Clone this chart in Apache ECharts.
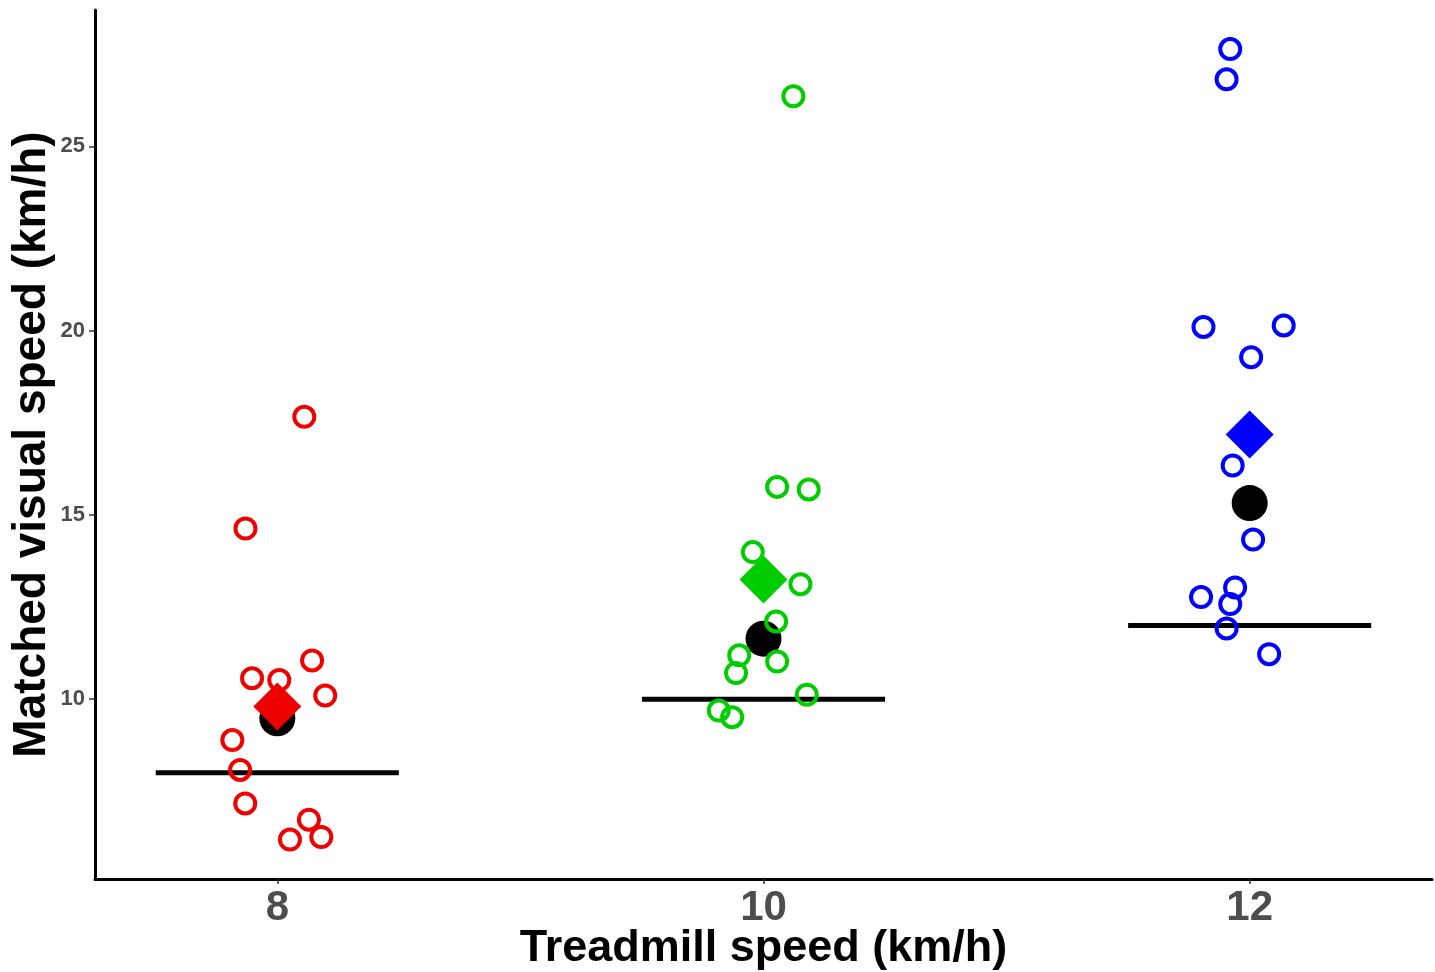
<!DOCTYPE html>
<html>
<head>
<meta charset="utf-8">
<script src="https://cdn.jsdelivr.net/npm/echarts@6/dist/echarts.min.js"></script>
<style>
html,body{margin:0;padding:0;background:#fff;}
#chart{width:1435px;height:972px;}
</style>
</head>
<body>
<div id="chart"></div>
<script>
// Treadmill speeds (km/h)
const treadmillSpeeds = [8, 10, 12];
const xTickValues = [8, 10, 12];
const yTickValues = [10, 15, 20, 25];

// Individual matched speeds: [jittered x, matched visual speed]
const points8 = [
  [8.111, 17.66], [7.869, 14.63], [8.143, 11.05], [7.896, 10.57], [8.008, 10.52],
  [8.197, 10.10], [7.815, 8.89], [7.847, 8.08], [7.868, 7.17], [8.130, 6.73],
  [8.052, 6.19], [8.181, 6.26]
];
const points10 = [
  [10.123, 26.36], [10.056, 15.76], [10.186, 15.69], [9.956, 13.99], [10.152, 13.12],
  [10.052, 12.11], [9.900, 11.19], [9.887, 10.71], [10.056, 11.02], [10.178, 10.12],
  [9.816, 9.69], [9.871, 9.51]
];
const points12 = [
  [11.920, 27.64], [11.905, 26.82], [11.810, 20.10], [12.140, 20.14], [12.006, 19.28],
  [11.930, 16.34], [12.014, 14.33], [11.940, 13.03], [11.800, 12.77], [11.920, 12.58],
  [11.905, 11.92], [12.080, 11.22]
];
// Summary values per treadmill speed
const blackDotValues = [9.48, 11.64, 15.32];
const diamondValues = [9.80, 13.25, 17.18];

const groupColors = ['#EE0000', '#00CD00', '#0000FF'];
const groupPoints = [points8, points10, points12];

const FONT = '"Liberation Sans", Arial, Helvetica, sans-serif';

const series = [];
// reference segments (y = treadmill speed)
treadmillSpeeds.forEach(s => {
  series.push({
    type: 'line',
    data: [[s - 0.5, s], [s + 0.5, s]],
    symbol: 'none',
    lineStyle: { color: '#000', width: 5, opacity: 1 },
    silent: true,
    z: 2
  });
});
// black dots
series.push({
  type: 'scatter',
  data: treadmillSpeeds.map((s, i) => [s, blackDotValues[i]]),
  symbol: 'circle',
  symbolSize: 36,
  itemStyle: { color: '#000', opacity: 1 },
  z: 3
});
// diamonds
series.push({
  type: 'scatter',
  data: treadmillSpeeds.map((s, i) => ({ value: [s, diamondValues[i]], itemStyle: { color: groupColors[i], opacity: 1 } })),
  symbol: 'diamond',
  symbolSize: 48,
  itemStyle: { opacity: 1 },
  z: 4
});
// open circles
groupPoints.forEach((pts, i) => {
  series.push({
    type: 'scatter',
    data: pts,
    symbol: 'circle',
    symbolSize: 20,
    itemStyle: { color: 'rgba(0,0,0,0)', borderColor: groupColors[i], borderWidth: 4, opacity: 1 },
    z: 5
  });
});

const chart = echarts.init(document.getElementById('chart'), null, { renderer: 'canvas' });
chart.setOption({
  animation: false,
  backgroundColor: '#fff',
  grid: { left: 95, right: 3, top: 10, bottom: 93, containLabel: false, outerBoundsMode: 'none' },
  xAxis: {
    type: 'value',
    min: 7.25,
    max: 12.75,
    splitLine: { show: false },
    axisLine: { show: true, onZero: false, lineStyle: { color: '#000', width: 3 } },
    axisTick: { show: true, customValues: xTickValues, length: 5, lineStyle: { color: '#333', width: 1.5 } },
    axisLabel: {
      show: true, customValues: xTickValues, margin: 8,
      fontFamily: FONT, fontSize: 42, fontWeight: 'bold', color: '#4D4D4D'
    },
    name: 'Treadmill speed (km/h)',
    nameLocation: 'middle',
    nameGap: 47,
    nameMoveOverlap: false,
    nameTextStyle: { fontFamily: FONT, fontSize: 45, fontWeight: 'bold', color: '#000' }
  },
  yAxis: {
    type: 'value',
    min: 5.12,
    max: 28.70,
    splitLine: { show: false },
    axisLine: { show: true, onZero: false, lineStyle: { color: '#000', width: 3 } },
    axisTick: { show: true, customValues: yTickValues, length: 6, lineStyle: { color: '#333', width: 1.5 } },
    axisLabel: {
      show: true, customValues: yTickValues, margin: 10,
      fontFamily: FONT, fontSize: 22, fontWeight: 'bold', color: '#4D4D4D'
    },
    name: 'Matched visual speed (km/h)',
    nameLocation: 'middle',
    nameGap: 40,
    nameMoveOverlap: false,
    nameTextStyle: { fontFamily: FONT, fontSize: 46, fontWeight: 'bold', color: '#000' }
  },
  series: series
});
</script>
</body>
</html>
